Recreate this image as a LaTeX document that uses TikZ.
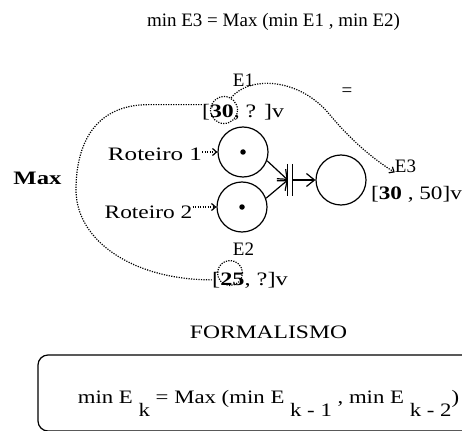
\documentclass[tikz,border=0pt]{standalone}
\usepackage{graphicx}
\usepackage{fontspec}
\setmainfont{Liberation Serif}
\usetikzlibrary{arrows.meta}
\newcommand{\hsc}[2]{\scalebox{#1}[1]{#2}}
\begin{document}
\begin{tikzpicture}[x=1pt,y=-1pt,
  every node/.style={font=\fontsize{19}{22}\selectfont, inner sep=0pt},
  lbl/.style={anchor=base},
  place/.style={draw, circle, minimum size=50pt, line width=1.2pt},
  tok/.style={circle, fill, minimum size=5.5pt},
  dotline/.style={line width=1.2pt, dash pattern=on 1.2pt off 1.3pt},
  darrow/.style={dotline, -{Straight Barb[length=4pt,width=7pt]}},
  parrow/.style={line width=1.2pt, -{Straight Barb[length=8pt,width=13pt]}},
  ring/.style={circle, draw, dotline, minimum size=#1}
]
\useasboundingbox (0,0) rectangle (462,430);
\clip (0,0) rectangle (462,430);
% texts
\node[lbl] (title) at (273.5,27) {min E3 = Max (min E1 , min E2)};
\node[lbl] (e1) at (243.5,87) {E1};
\node (eq) at (347,92) {=};
\node[lbl] (l1) at (243,118) {\hsc{1.25}{[\textbf{30}, ? ]v}};
\node[lbl] (r1) at (155,161) {\hsc{1.32}{Roteiro 1}};
\node[lbl] (r2) at (148.5,218) {\hsc{1.23}{Roteiro 2}};
\node[lbl, font=\fontsize{19}{22}\selectfont\bfseries] (max) at (37.5,184) {\hsc{1.3}{Max}};
\node[lbl] (e3) at (405.5,172) {E3};
\node[lbl] (l3) at (416.5,200) {\hsc{1.22}{[\textbf{30} , 50]v}};
\node[lbl] (e2) at (243.5,255) {E2};
\node[lbl] (l2) at (250,285) {\hsc{1.28}{[\textbf{25}, ?]v}};
\node[ring=27pt] (c30) at (224,110) {};
\node[ring=25pt] (c25) at (230,273) {};
\node[lbl] (form) at (268.5,338) {\hsc{1.24}{FORMALISMO}};
\node[lbl] (eqk) at (268.5,403) {\hsc{1.2}{min E \raisebox{-13pt}{k} = Max (min E \raisebox{-13pt}{k - 1} , min E \raisebox{-13pt}{k - 2})}};
% net
\node[place] (p1) at (243,152) {};
\node[place] (p2) at (242,207) {};
\node[place] (p3) at (341,180) {};
\node[tok] (k1) at (p1) {};
\node[tok] (k2) at (p2) {};
\node[minimum width=4pt, minimum height=32pt] (t) at (290,180) {};
\draw[line width=1.2pt] (t.north west) -- (t.south west) (t.north east) -- (t.south east);
\draw[darrow] (r1.east |- p1.west) -- (p1.west);
\draw[darrow] (r2.east |- p2.west) -- (p2.west);
\draw[parrow] (p1.-20) -- (t.west);
\draw[parrow] (p2.20) -- (t.west);
\draw[parrow] (t.east) -- (p3.west);
\draw[dotline] (l1.north west) -- ++(-53,0) .. controls +(-55,0) and +(0,-45) .. (76,190) .. controls +(0,50) and +(-80,0) .. (l2.west);
\draw[darrow] (c30.60) .. controls (250,75) and (300,78) .. (330,115) .. controls (355,145) and (378,162) .. (e3.south west);
% frame
\draw[line width=1.2pt, rounded corners=10pt] (38,355) rectangle (500,431);
\end{tikzpicture}
\end{document}
